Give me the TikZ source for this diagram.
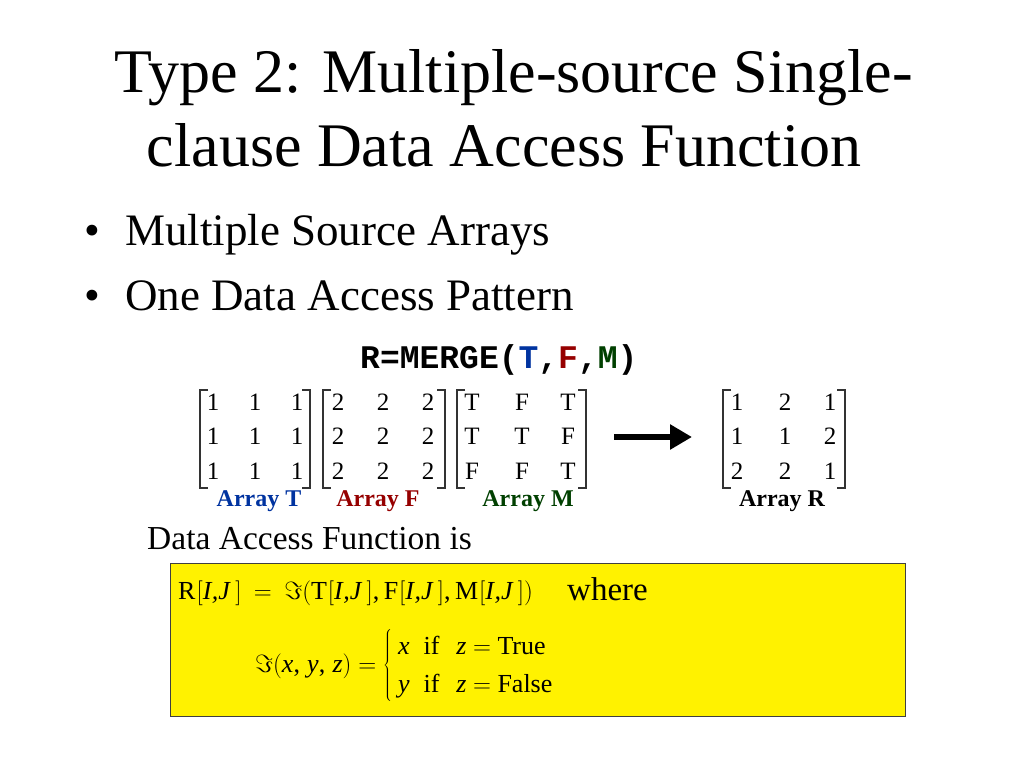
\documentclass[tikz,border=0pt]{standalone}
\usepackage{fontspec}
\setmainfont{Liberation Serif}
\setmonofont{Liberation Mono}
\usetikzlibrary{arrows.meta}
\definecolor{tblue}{RGB}{0,51,160}
\definecolor{tred}{RGB}{150,0,0}
\definecolor{tgreen}{RGB}{0,64,0}
\newcommand{\IJv}{\textit{I\kern0.5pt,J}\,}
\newcommand{\bracketpair}[4]{%
  \draw[brk] ({#1+8},#3) -- (#1,#3) -- (#1,#4) -- ({#1+8},#4);
  \draw[brk] ({#2-8},#3) -- (#2,#3) -- (#2,#4) -- ({#2-8},#4);}
\begin{document}
\begin{tikzpicture}[x=1pt,y=-1pt,
  txt/.style={inner sep=0pt, anchor=base west},
  entry/.style={inner sep=0pt, anchor=base, font=\fontsize{25}{30}\selectfont},
  lbl/.style={inner sep=0pt, anchor=base, font=\fontsize{24}{28}\selectfont\bfseries},
  brk/.style={line width=1.1pt, draw=black!80},
  title/.style={inner sep=0pt, anchor=base, font=\fontsize{62}{70}\selectfont},
  bullet/.style={inner sep=0pt, anchor=base west, font=\fontsize{45}{50}\selectfont},
  formula/.style={inner sep=0pt, anchor=base west, font=\fontsize{26}{38}\selectfont}]
\useasboundingbox[fill=white] (0,0) rectangle (1024,768);
% title
\node[title] (t1) at (514,92) {Type 2: Multiple-source Single-};
\node[title] (t2) at (504,166) {clause Data Access Function};
% bullets
\node[bullet] (b1dot) at (84,245) {•};
\node[bullet] (b1) at (125,245) {Multiple Source Arrays};
\node[bullet] (b2dot) at (84,310) {•};
\node[bullet] (b2) at (125,310) {One Data Access Pattern};
% merge
\node[txt, font=\fontsize{33}{36}\selectfont\ttfamily\bfseries] (merge) at (360,368)
  {R=MERGE(\textcolor{tblue}{T},\textcolor{tred}{F},\textcolor{tgreen}{M})};
% matrices
\foreach \r/\y in {1/410,2/444,3/479}{
  \foreach \c/\x in {1/213,2/255,3/297}{
    \node[entry] (T-\r-\c) at (\x,\y) {1};}
  \foreach \c/\x in {1/338,2/383,3/428}{
    \node[entry] (F-\r-\c) at (\x,\y) {2};}
}
\foreach \r/\y/\a/\b/\cc in {1/410/T/F/T,2/444/T/T/F,3/479/F/F/T}{
  \node[entry] (M-\r-1) at (472,\y) {\a};
  \node[entry] (M-\r-2) at (522,\y) {\b};
  \node[entry] (M-\r-3) at (568,\y) {\cc};
}
\foreach \r/\y/\a/\b/\cc in {1/410/1/2/1,2/444/1/1/2,3/479/2/2/1}{
  \node[entry] (R-\r-1) at (737,\y) {\a};
  \node[entry] (R-\r-2) at (785,\y) {\b};
  \node[entry] (R-\r-3) at (830,\y) {\cc};
}
\bracketpair{200}{310}{390}{488}
\bracketpair{323}{445}{390}{488}
\bracketpair{457}{586}{390}{488}
\bracketpair{723}{845}{390}{488}
\node[lbl, text=tblue] (labT) at (259,506) {Array T};
\node[lbl, text=tred] (labF) at (378,506) {Array F};
\node[lbl, text=tgreen] (labM) at (528,506) {Array M};
\node[lbl, text=black] (labR) at (782,506) {Array R};
% arrow
\coordinate (arrS) at (614,437);
\coordinate (arrE) at (692,437);
\draw[line width=6pt, -{Triangle[length=22pt,width=24pt]}] (arrS) -- (arrE);
% data access function
\node[txt, font=\fontsize{33.5}{38}\selectfont] (daf) at (147,549) {Data Access Function is};
\draw[fill=yellow, draw=black!75, line width=0.9pt] (170,563) rectangle (905,716);
\node[formula] (f1) at (178,599)
  {R\kern1pt$\bigl[$\IJv$\bigr]\:=\:\Im\bigl($T\kern1pt$\bigl[$\IJv$\bigr]$,\,F\kern1pt$\bigl[$\IJv$\bigr]$,\,M\kern1pt$\bigl[$\IJv$\bigr]\bigr)$};
\node[txt, font=\fontsize{33}{38}\selectfont] (where) at (567,600) {where};
\node[formula] (f2) at (255,672)
  {$\Im\bigl($\textit{x},\;\textit{y},\;\textit{z}$\bigr)=\left\{\kern6pt\begin{tabular}{@{}l@{}}\textit{x}\hspace{14pt}if\hspace{17pt}\textit{z} $=$ True\\\textit{y}\hspace{14pt}if\hspace{17pt}\textit{z} $=$ False\end{tabular}\right.$};
\end{tikzpicture}
\end{document}
